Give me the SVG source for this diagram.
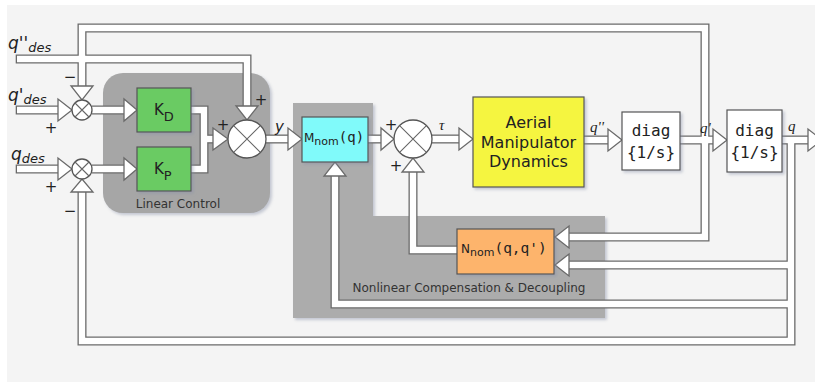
<svg xmlns="http://www.w3.org/2000/svg" width="815" height="382" viewBox="0 0 815 382">
<defs>
<style>
.bo{fill:none;stroke:#6a6a6a;stroke-width:9;stroke-linejoin:miter}
.bi{fill:none;stroke:#fff;stroke-width:6.4;stroke-linejoin:miter}
.ah{fill:#fff;stroke:#6a6a6a;stroke-width:1.3;stroke-linejoin:miter}
.sj{fill:#fff;stroke:#555;stroke-width:1.3}
.sx{stroke:#666;stroke-width:1.1}
.box{stroke:#555;stroke-width:1.2}
.t{font-family:"DejaVu Sans",Verdana,sans-serif;fill:#222}
.m{font-family:"DejaVu Sans Mono","Liberation Mono",monospace;fill:#222}
.lab{font-family:"DejaVu Sans",sans-serif;font-size:12px;fill:#333;text-anchor:middle}
.sg{font-family:"DejaVu Sans",sans-serif;font-size:15px;fill:#222;text-anchor:middle}
.sv{font-family:"Liberation Serif",serif;font-style:italic;font-size:15px;fill:#222}
.iq{font-family:"DejaVu Sans",sans-serif;font-style:italic;fill:#222}
</style>
<filter id="sh" x="-10%" y="-10%" width="130%" height="130%">
<feDropShadow dx="2" dy="2" stdDeviation="1.5" flood-color="#8890a8" flood-opacity="0.45"/>
</filter>
</defs>
<rect x="0" y="0" width="815" height="382" fill="#ffffff"/>
<rect x="7" y="5" width="808" height="377" fill="#f4f4f4"/>

<g id="regions">
<g id="linear-control">
<rect x="103" y="73" width="167" height="140" rx="20" fill="#a6a6a6" filter="url(#sh)"/>
<text class="lab" x="178" y="208">Linear Control</text>
</g>
<g id="nonlinear-compensation">
<polygon points="293,103 373,103 373,216 605,216 605,318 293,318" fill="#acacac" filter="url(#sh)"/>
<text class="lab" x="469" y="292">Nonlinear Compensation &amp; Decoupling</text>
</g>
</g>

<g id="connectors">
<g class="bo">
<path d="M15.7 59 H247 V108"/>
<path d="M705 140 V28 H82 V88"/>
<path d="M705 140 V237 H566"/>
<path d="M680 140 H716"/>
<path d="M782 140 H810"/>
<path d="M791 140 V341 H82 V190"/>
<path d="M791 265 H566"/>
<path d="M791 304 H335 V176"/>
<path d="M15.7 110 H60"/>
<path d="M15.7 169 H60"/>
<path d="M92 110 H126"/>
<path d="M92 169 H126"/>
<path d="M191 110 H204 V169 H191"/>
<path d="M204 139 H216"/>
<path d="M266 139 H290"/>
<path d="M368 139 H383"/>
<path d="M432 139 H461"/>
<path d="M584 140 H610"/>
<path d="M457 250 H413 V172"/>
</g>
<g class="bi">
<path d="M17 59 H247 V108"/>
<path d="M705 140 V28 H82 V88"/>
<path d="M705 140 V237 H566"/>
<path d="M680 140 H716"/>
<path d="M782 140 H810"/>
<path d="M791 140 V341 H82 V190"/>
<path d="M791 265 H566"/>
<path d="M791 304 H335 V176"/>
<path d="M17 110 H60"/>
<path d="M17 169 H60"/>
<path d="M92 110 H126"/>
<path d="M92 169 H126"/>
<path d="M191 110 H204 V169 H191"/>
<path d="M204 139 H216"/>
<path d="M266 139 H290"/>
<path d="M368 139 H383"/>
<path d="M432 139 H461"/>
<path d="M584 140 H610"/>
<path d="M457 250 H413 V172"/>
</g>
<g class="ah">
<polygon points="236,106 258,106 247,120"/>
<polygon points="71,86 93,86 82,100"/>
<polygon points="569,226 569,248 555,237"/>
<polygon points="713,129 713,151 727,140"/>
<polygon points="808,129 808,151 822,140"/>
<polygon points="71,192 93,192 82,179"/>
<polygon points="569,254 569,276 555,265"/>
<polygon points="324,176 346,176 335,162"/>
<polygon points="58,99 58,121 72,110"/>
<polygon points="58,158 58,180 72,169"/>
<polygon points="124,99 124,121 137,110"/>
<polygon points="124,158 124,180 137,169"/>
<polygon points="213,128 213,150 228,139"/>
<polygon points="288,128 288,150 302,139"/>
<polygon points="381,128 381,150 394,139"/>
<polygon points="459,128 459,150 473,139"/>
<polygon points="608,129 608,151 622,140"/>
<polygon points="402,172 424,172 413,158"/>
</g>
</g>

<g id="sum-qd">
<circle class="sj" cx="82" cy="110" r="10"/>
<path class="sx" d="M75 103 L89 117 M89 103 L75 117"/>
</g>
<g id="sum-q">
<circle class="sj" cx="82" cy="169" r="10"/>
<path class="sx" d="M75 162 L89 176 M89 162 L75 176"/>
</g>
<g id="sum-y">
<circle class="sj" cx="247" cy="139" r="19"/>
<path class="sx" d="M233.6 125.6 L260.4 152.4 M260.4 125.6 L233.6 152.4"/>
</g>
<g id="sum-tau">
<circle class="sj" cx="413" cy="139" r="19"/>
<path class="sx" d="M399.6 125.6 L426.4 152.4 M426.4 125.6 L399.6 152.4"/>
</g>

<g id="KD">
<rect class="box" x="137" y="88" width="54" height="44" fill="#6acb64" filter="url(#sh)"/>
<text class="t" x="154" y="115" font-size="15">K<tspan font-size="13" dy="6">D</tspan></text>
</g>
<g id="KP">
<rect class="box" x="137" y="147" width="54" height="44" fill="#6acb64" filter="url(#sh)"/>
<text class="t" x="154" y="174" font-size="15">K<tspan font-size="13" dy="6">P</tspan></text>
</g>
<g id="Mnom">
<rect class="box" x="302" y="117" width="66" height="45" fill="#80fafa" filter="url(#sh)"/>
<text class="t" x="304" y="142" font-size="12">M<tspan font-size="11" dy="3">nom</tspan><tspan class="m" font-size="14" dy="-3">(q)</tspan></text>
</g>
<g id="dynamics">
<rect class="box" x="473" y="97" width="111" height="90" fill="#f5f53f" filter="url(#sh)"/>
<text class="t" font-size="16" text-anchor="middle"><tspan x="528.5" y="128">Aerial</tspan><tspan x="528.5" y="148">Manipulator</tspan><tspan x="528.5" y="167">Dynamics</tspan></text>
</g>
<g id="Nnom">
<rect class="box" x="457" y="229" width="97" height="45" fill="#fdb46c" filter="url(#sh)"/>
<text class="t" x="461" y="253" font-size="12">N<tspan font-size="11" dy="3">nom</tspan><tspan class="m" font-size="14.5" dy="-3">(q,q')</tspan></text>
</g>
<g id="diag1">
<rect class="box" x="622" y="112" width="58" height="58" fill="#ffffff" filter="url(#sh)"/>
<text class="m" font-size="16" text-anchor="middle"><tspan x="651" y="136">diag</tspan><tspan x="651" y="158">{1/s}</tspan></text>
</g>
<g id="diag2">
<rect class="box" x="727" y="110" width="55" height="62" fill="#ffffff" filter="url(#sh)"/>
<text class="m" font-size="16" text-anchor="middle"><tspan x="754.5" y="136">diag</tspan><tspan x="754.5" y="158">{1/s}</tspan></text>
</g>

<g id="labels">
<text class="iq" x="8" y="49" font-size="17">q''<tspan font-size="13" dy="3">des</tspan></text>
<text class="iq" x="8" y="101" font-size="17">q'<tspan font-size="13" dy="3">des</tspan></text>
<text class="iq" x="11" y="160" font-size="17">q<tspan font-size="13" dy="3">des</tspan></text>
<text class="sg" x="70" y="82">−</text>
<text class="sg" x="51" y="133">+</text>
<text class="sg" x="51" y="192">+</text>
<text class="sg" x="70" y="216">−</text>
<text class="sg" x="261" y="105">+</text>
<text class="sg" x="223" y="130">+</text>
<text class="sg" x="391" y="130">+</text>
<text class="sg" x="396" y="171">+</text>
<text class="iq" x="275" y="132" font-size="15">y</text>
<text class="sv" x="439" y="130" font-size="16">τ</text>
<text class="sv" x="590" y="132" font-size="14">q''</text>
<text class="sv" x="700" y="133" font-size="14">q'</text>
<text class="sv" x="788" y="131" font-size="14">q</text>
</g>
</svg>
